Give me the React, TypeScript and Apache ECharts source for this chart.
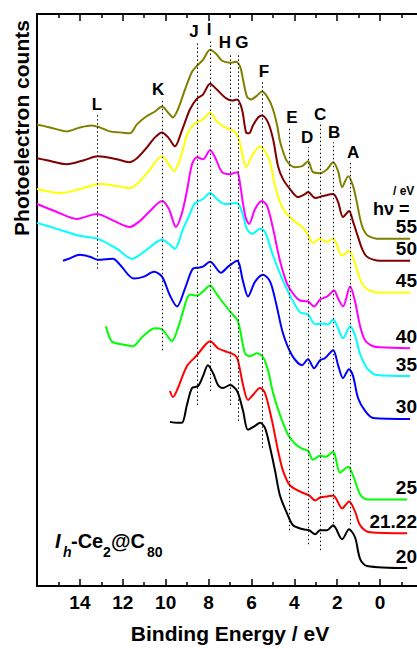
import React, { useEffect, useRef } from 'react';
import * as echarts from 'echarts';

// Photon energies (eV) and line colours, bottom to top
const photonEnergies = ['20', '21.22', '25', '30', '35', '40', '45', '50', '55'];
const curveColors = ['#000000', '#ff0000', '#00ff00', '#0000ff', '#00ffff', '#ff00ff', '#ffff00', '#800000', '#808000'];

// Spectra: [binding energy (eV), photoelectron counts (arb. units, offset)]
const hv20: number[][] = [[9.80,165],[9.47,164],[9.24,164],[9.01,182],[8.77,199],[8.49,201],[8.26,211],[8.03,222],[7.79,214],[7.56,202],[7.33,199],[7.00,202],[6.67,196],[6.39,176],[6.16,157],[5.83,161],[5.60,164],[5.37,159],[5.13,139],[4.90,116],[4.67,91],[4.34,73],[4.06,61],[3.59,57],[3.31,56],[3.03,52],[2.80,56],[2.47,56],[2.19,61],[1.77,47],[1.45,57],[1.17,49],[0.93,27],[0.61,20],[-1.26,18]];
const hv21: number[][] = [[9.80,196],[9.66,190],[9.43,199],[9.01,221],[8.54,232],[8.17,242],[7.93,246],[7.56,239],[7.23,236],[6.77,232],[6.63,227],[6.39,202],[6.16,187],[5.93,192],[5.60,199],[5.37,194],[5.04,166],[4.76,136],[4.53,116],[4.20,101],[3.64,94],[3.31,91],[3.03,86],[2.80,89],[2.47,90],[2.19,91],[1.77,78],[1.45,85],[1.17,75],[0.93,61],[0.47,54],[-1.26,53]];
const hv25: number[][] = [[12.79,261],[12.60,249],[12.46,245],[11.81,242],[11.53,241],[11.06,251],[10.50,259],[10.17,258],[9.94,252],[9.71,246],[9.43,259],[9.19,276],[8.87,293],[8.54,292],[8.26,296],[7.93,302],[7.70,296],[7.47,289],[7.00,276],[6.63,266],[6.30,234],[6.07,231],[5.74,234],[5.46,230],[5.23,217],[4.99,194],[4.67,172],[4.29,152],[3.97,143],[3.64,138],[3.36,136],[3.13,127],[2.80,131],[2.52,130],[2.19,135],[1.87,114],[1.49,120],[1.26,111],[0.93,92],[0.61,87],[-1.26,87]];
const hv30: number[][] = [[14.79,327],[14.51,329],[14.00,333],[13.53,331],[13.16,328],[12.46,329],[12.13,323],[11.48,309],[11.01,311],[10.55,316],[10.17,311],[9.80,292],[9.47,281],[9.10,299],[8.73,319],[8.49,320],[8.26,321],[7.93,326],[7.42,315],[7.09,321],[6.67,327],[6.39,306],[6.16,291],[5.83,306],[5.46,313],[5.13,306],[4.85,284],[4.53,254],[4.11,232],[3.64,222],[3.36,228],[3.08,219],[2.80,227],[2.57,229],[2.19,237],[1.96,222],[1.73,209],[1.45,218],[1.26,211],[1.03,189],[0.70,176],[0.33,169],[-1.40,168]];
const hv35: number[][] = [[16.00,365],[15.07,359],[14.00,352],[13.16,349],[12.27,339],[11.57,329],[11.01,336],[10.41,346],[10.17,348],[9.85,344],[9.57,339],[9.19,359],[8.87,374],[8.63,385],[8.26,389],[7.93,395],[7.61,389],[7.23,384],[6.67,385],[6.44,376],[6.21,359],[5.97,354],[5.60,359],[5.37,356],[4.99,332],[4.57,309],[4.20,292],[3.73,275],[3.36,273],[3.03,263],[2.71,264],[2.43,263],[2.19,268],[1.96,259],[1.73,249],[1.40,261],[1.17,252],[0.93,233],[0.61,219],[0.14,212],[-1.40,211]];
const hv40: number[][] = [[16.00,384],[15.07,376],[14.14,369],[13.21,374],[12.41,367],[11.67,361],[11.20,367],[10.73,377],[10.17,387],[9.85,379],[9.52,361],[9.24,375],[9.01,397],[8.77,424],[8.54,431],[8.26,429],[7.93,438],[7.70,431],[7.37,416],[7.00,414],[6.67,416],[6.53,404],[6.39,384],[6.25,369],[6.11,364],[5.83,379],[5.51,387],[5.27,382],[4.99,359],[4.67,327],[4.34,304],[4.06,294],[3.73,287],[3.36,286],[3.08,281],[2.80,288],[2.47,291],[2.15,297],[1.96,289],[1.73,281],[1.40,301],[1.17,286],[0.93,261],[0.70,247],[0.33,241],[0.00,240],[-1.40,239]];
const hv45: number[][] = [[16.00,399],[14.93,395],[14.00,399],[13.07,404],[12.27,402],[11.67,400],[11.34,404],[10.83,416],[10.17,432],[9.80,422],[9.61,417],[9.33,429],[8.96,456],[8.63,465],[8.26,469],[7.93,476],[7.61,467],[7.23,461],[6.86,458],[6.63,452],[6.44,436],[6.25,421],[5.93,434],[5.60,442],[5.37,437],[5.13,426],[4.90,402],[4.67,386],[4.43,376],[4.06,368],[3.59,360],[3.36,353],[3.13,345],[2.80,349],[2.52,346],[2.19,349],[1.77,332],[1.45,337],[1.21,327],[0.98,311],[0.75,301],[0.37,296],[0.00,295],[-1.40,295]];
const hv50: number[][] = [[16.00,430],[15.54,428],[14.61,424],[13.81,428],[13.16,432],[12.27,429],[11.71,426],[11.34,430],[10.87,441],[10.50,451],[10.17,456],[9.85,450],[9.57,442],[9.24,458],[8.87,479],[8.54,490],[8.26,494],[7.93,505],[7.61,499],[7.23,491],[6.91,488],[6.67,489],[6.44,479],[6.25,456],[6.11,455],[5.93,463],[5.69,471],[5.51,473],[5.23,466],[4.99,449],[4.76,422],[4.53,409],[4.20,399],[3.83,391],[3.50,394],[3.36,396],[3.03,390],[2.66,392],[2.19,394],[1.96,386],[1.73,371],[1.45,377],[1.26,366],[1.03,351],[0.84,339],[0.61,331],[0.00,327],[-1.40,327]];
const hv55: number[][] = [[16.00,464],[15.40,461],[14.61,457],[14.00,461],[13.44,463],[13.07,461],[12.60,457],[12.13,456],[11.67,455],[11.34,464],[10.97,471],[10.50,477],[10.17,482],[9.89,476],[9.66,471],[9.43,479],[9.10,499],[8.77,517],[8.54,523],[8.26,529],[7.93,539],[7.65,535],[7.37,528],[7.00,526],[6.72,527],[6.53,522],[6.39,509],[6.21,492],[6.02,489],[5.74,493],[5.51,497],[5.27,492],[5.04,482],[4.81,464],[4.67,447],[4.53,437],[4.34,427],[3.97,421],[3.64,422],[3.36,427],[3.13,416],[2.80,415],[2.47,419],[2.19,426],[1.96,417],[1.77,401],[1.49,412],[1.26,402],[1.07,384],[0.93,369],[0.79,359],[0.56,352],[0.00,349],[-1.40,349]];
const curves = [hv20, hv21, hv25, hv30, hv35, hv40, hv45, hv50, hv55];

// Peak markers
const peakNames = ['A', 'B', 'C', 'D', 'E', 'F', 'G', 'H', 'I', 'J', 'K', 'L'];
const peakEnergies = [1.40, 2.19, 2.80, 3.36, 4.25, 5.51, 6.63, 7.00, 7.93, 8.54, 10.17, 13.21];
const peakLineTop = [426, 446, 464, 441, 461, 507, 536, 536, 549, 547, 489, 474];
const peakLineBottom = [62, 59, 36, 42, 56, 139, 166, 182, 196, 182, 237, 319];
const peakLabelShift = [3, 1, 0, -1, 3, 2, 4, -5, -1, -3, -4, 0];

const FONT = '"Liberation Sans", Arial, Helvetica, sans-serif';

export default function App() {
  const ref = useRef<HTMLDivElement>(null);
  useEffect(() => {
    if (!ref.current) return;
    const chart = echarts.init(ref.current, undefined, { renderer: 'svg' });
    const axisCommon = {
      type: 'value' as const,
      min: -2,
      max: 16,
      interval: 2,
      inverse: true,
      axisLine: { onZero: false, lineStyle: { color: '#000', width: 2 } },
      axisTick: { inside: true, length: 7, lineStyle: { color: '#000', width: 1.5 } },
      minorTick: { show: true, splitNumber: 2, length: 4, lineStyle: { color: '#000', width: 1.5 } },
      splitLine: { show: false },
    };
    const yCommon = {
      type: 'value' as const,
      min: 0,
      max: 575,
      axisLine: { show: true, onZero: false, lineStyle: { color: '#000', width: 2 } },
      axisTick: { show: false },
      axisLabel: { show: false },
      splitLine: { show: false },
    };
    const series: any[] = curves.map((d, i) => ({
      type: 'line',
      name: photonEnergies[i],
      data: d,
      symbol: 'none',
      showSymbol: false,
      smooth: 0.3,
      silent: true,
      emphasis: { disabled: true },
      lineStyle: { color: curveColors[i], width: 2 },
      itemStyle: { color: curveColors[i] },
      z: 3,
    }));
    series[0].markLine = {
      silent: true,
      symbol: ['none', 'none'],
      label: { show: false },
      emphasis: { disabled: true },
      lineStyle: { color: '#000', type: [1.5, 2.5], width: 1 },
      data: peakNames.map((_, i) => [
        { coord: [peakEnergies[i], peakLineBottom[i]] },
        { coord: [peakEnergies[i], peakLineTop[i]] },
      ]),
    };
    chart.setOption({
      animation: false,
      textStyle: { fontFamily: FONT },
      grid: { left: 37, right: 17, top: 14, bottom: 60 },
      xAxis: [
        {
          ...axisCommon,
          position: 'bottom',
          axisLabel: { color: '#000', fontSize: 19, fontWeight: 'bold', fontFamily: FONT, margin: 7, showMinLabel: false, showMaxLabel: false },
          name: 'Binding Energy / eV',
          nameLocation: 'middle',
          nameGap: 37,
          nameTextStyle: { color: '#000', fontSize: 21, fontWeight: 'bold', fontFamily: FONT },
        },
        { ...axisCommon, position: 'top', axisLabel: { show: false } },
      ],
      yAxis: [
        { ...yCommon, position: 'left' },
        { ...yCommon, position: 'right' },
      ],
      series,
    });

    const toPx = (e: number, v: number) => chart.convertToPixel({ seriesIndex: 0 }, [e, v]) as number[];
    const txt = (text: string, x: number, y: number, size: number, align = 'center', extra: any = {}) => ({
      type: 'text',
      x,
      y,
      silent: true,
      style: { text, fill: '#000', fontSize: size, fontWeight: 'bold', fontFamily: FONT, align, verticalAlign: 'middle', ...extra },
    });
    const graphics: any[] = [];
    graphics.push({ ...txt('Photoelectron counts', 21, 128, 21), rotation: Math.PI / 2 });
    peakNames.forEach((n, i) => {
      const p = toPx(peakEnergies[i], peakLineTop[i]);
      graphics.push(txt(n, p[0] + peakLabelShift[i], p[1] - 10, 17));
    });
    curves.forEach((d, i) => {
      const last = d[d.length - 1];
      const p = toPx(last[0], last[1]);
      graphics.push(txt(photonEnergies[i], 417, p[1] - 12, 19, 'right'));
    });
    graphics.push(txt('h\u03bd =', 373, 209, 18, 'left'));
    graphics.push(txt('/ eV', 393, 191, 12, 'left'));
    // I_h-Ce2@C80
    graphics.push(txt('I', 55, 541, 20, 'left', { fontStyle: 'italic' }));
    graphics.push(txt('h', 63, 552, 14, 'left', { fontStyle: 'italic' }));
    graphics.push(txt('-Ce', 71, 541, 20, 'left'));
    graphics.push(txt('2', 103, 552, 14, 'left'));
    graphics.push(txt('@C', 111, 541, 20, 'left'));
    graphics.push(txt('80', 147, 552, 14, 'left'));
    chart.setOption({ graphic: graphics });

    return () => chart.dispose();
  }, []);
  return (
    <div style={{ position: 'fixed', left: 0, top: 0, width: 417, height: 649, overflow: 'hidden', background: '#fff' }}>
      <div ref={ref} style={{ width: 440, height: 649 }} />
    </div>
  );
}
